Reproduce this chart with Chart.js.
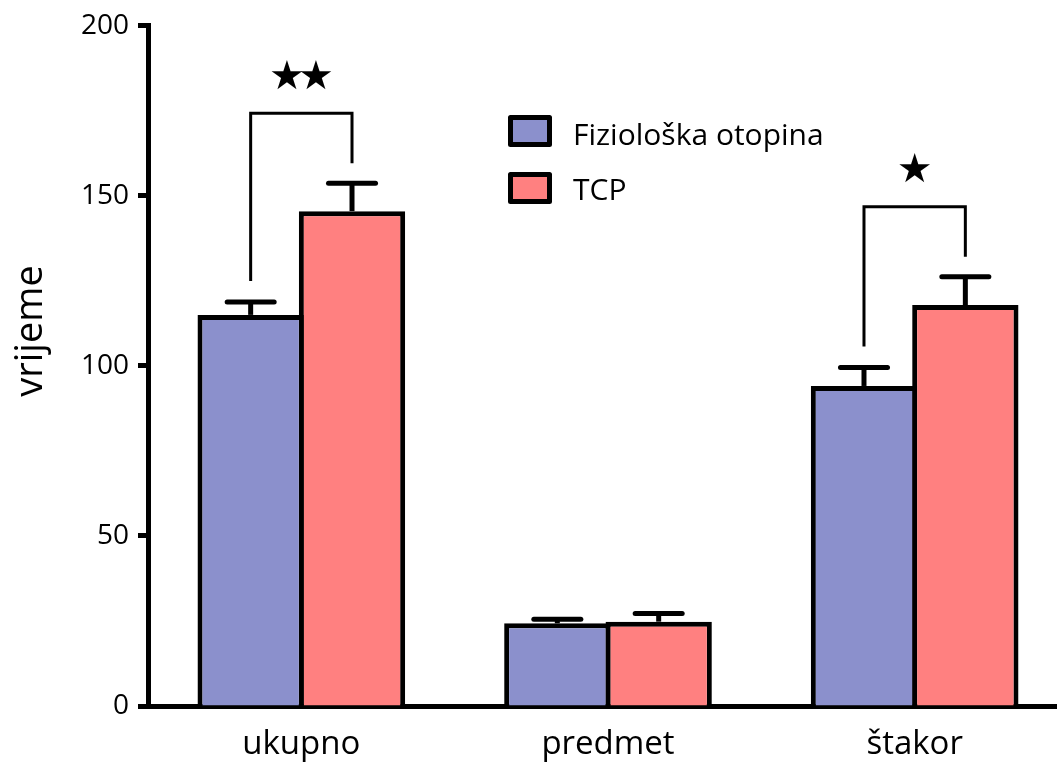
<!DOCTYPE html>
<html>
<head>
<meta charset="utf-8">
<script src="https://cdn.jsdelivr.net/npm/chart.js@4.4.1/dist/chart.umd.min.js"></script>
<style>
html, body { margin: 0; padding: 0; overflow: hidden; background: #fff; }
</style>
</head>
<body>
<canvas id="timeChart" width="1068" height="765"></canvas>
<script>
var categories = ["ukupno", "predmet", "štakor"];
var salineMeans = [115.0, 24.3, 94.1];
var salineErrors = [3.8, 1.2, 5.4];
var tcpMeans = [145.5, 24.8, 117.9];
var tcpErrors = [8.2, 2.4, 8.3];
var yTicks = [0, 50, 100, 150, 200];
var significance = ["★★", "", "★"];

var font = "'Open Sans', sans-serif";

// error bars, significance brackets, legend and y title
var extras = {
    id: "extras",
    afterDatasetsDraw: function (chart) {
        var ctx = chart.ctx;
        var y = chart.scales.y;
        var errs = [salineErrors, tcpErrors];
        var tops = [[], []];
        ctx.save();
        ctx.strokeStyle = "#000";
        ctx.fillStyle = "#000";

        chart.data.datasets.forEach(function (ds, i) {
            chart.getDatasetMeta(i).data.forEach(function (bar, j) {
                var top = y.getPixelForValue(ds.data[j] + errs[i][j]);
                tops[i][j] = top;
                ctx.lineWidth = 5;
                ctx.lineCap = "butt";
                ctx.beginPath();
                ctx.moveTo(bar.x, bar.y);
                ctx.lineTo(bar.x, top);
                ctx.stroke();
                ctx.lineCap = "round";
                ctx.beginPath();
                ctx.moveTo(bar.x - 23.5, top);
                ctx.lineTo(bar.x + 23.5, top);
                ctx.stroke();
            });
        });

        var m0 = chart.getDatasetMeta(0).data;
        var m1 = chart.getDatasetMeta(1).data;
        significance.forEach(function (s, j) {
            if (!s) return;
            var xl = m0[j].x, xr = m1[j].x;
            var yl = tops[0][j] - 21, yr = tops[1][j] - 20;
            var yt = Math.min(tops[0][j], tops[1][j]) - 70;
            ctx.lineWidth = 3;
            ctx.lineCap = "butt";
            ctx.lineJoin = "miter";
            ctx.beginPath();
            ctx.moveTo(xl, yl);
            ctx.lineTo(xl, yt);
            ctx.lineTo(xr, yt);
            ctx.lineTo(xr, yr);
            ctx.stroke();
            ctx.font = "bold 40px 'DejaVu Sans'";
            ctx.textAlign = "center";
            ctx.textBaseline = "middle";
            var chars = Array.from(s);
            chars.forEach(function (c, k) {
                var cx = (xl + xr) / 2 + (k - (chars.length - 1) / 2) * 29;
                ctx.fillText(c, cx, yt - 35);
            });
        });

        // legend
        chart.data.datasets.forEach(function (ds, i) {
            var by = 117.5 + i * 57;
            ctx.lineWidth = 5;
            ctx.lineJoin = "round";
            ctx.fillStyle = ds.backgroundColor;
            ctx.fillRect(510.5, by, 39, 27);
            ctx.strokeRect(510.5, by, 39, 27);
            ctx.fillStyle = "#000";
            ctx.font = "30px " + font;
            ctx.textAlign = "left";
            ctx.textBaseline = "alphabetic";
            ctx.fillText(ds.label, 573, 145 + i * 55);
        });

        // y axis title
        ctx.translate(42, 331);
        ctx.rotate(-Math.PI / 2);
        ctx.font = "38px " + font;
        ctx.textAlign = "center";
        ctx.textBaseline = "alphabetic";
        ctx.fillText("vrijeme", 0, 0);
        ctx.restore();
    }
};

new Chart("timeChart", {
    type: "bar",
    data: {
        labels: categories,
        datasets: [{
            label: "Fiziološka otopina",
            data: salineMeans,
            backgroundColor: "#8b90cc",
            borderColor: "#000",
            borderWidth: 5,
            borderSkipped: "start"
        }, {
            label: "TCP",
            data: tcpMeans,
            backgroundColor: "#ff8080",
            borderColor: "#000",
            borderWidth: 5,
            borderSkipped: "start"
        }]
    },
    options: {
        responsive: false,
        animation: false,
        devicePixelRatio: 1,
        categoryPercentage: 0.661,
        barPercentage: 1.049,
        layout: { padding: { top: 24, left: 0, right: 0, bottom: 0 } },
        plugins: {
            legend: { display: false },
            tooltip: { enabled: false }
        },
        scales: {
            x: {
                z: 1,
                grid: { display: false, drawTicks: false },
                border: { display: true, color: "#000", width: 5 },
                ticks: {
                    color: "#000",
                    padding: 19,
                    font: { family: font, size: 33 }
                },
                afterFit: function (scale) { scale.height = 59; }
            },
            y: {
                min: 0,
                max: 200,
                afterBuildTicks: function (axis) {
                    axis.ticks = yTicks.map(function (v) { return { value: v }; });
                },
                grid: {
                    drawOnChartArea: false,
                    drawTicks: true,
                    tickLength: 10,
                    tickWidth: 5,
                    color: "#000"
                },
                border: { display: true, color: "#000", width: 5 },
                ticks: {
                    color: "#000",
                    padding: 9,
                    font: { family: font, size: 28 }
                },
                afterFit: function (scale) { scale.width = 148; }
            }
        }
    },
    plugins: [extras]
});
</script>
</body>
</html>
